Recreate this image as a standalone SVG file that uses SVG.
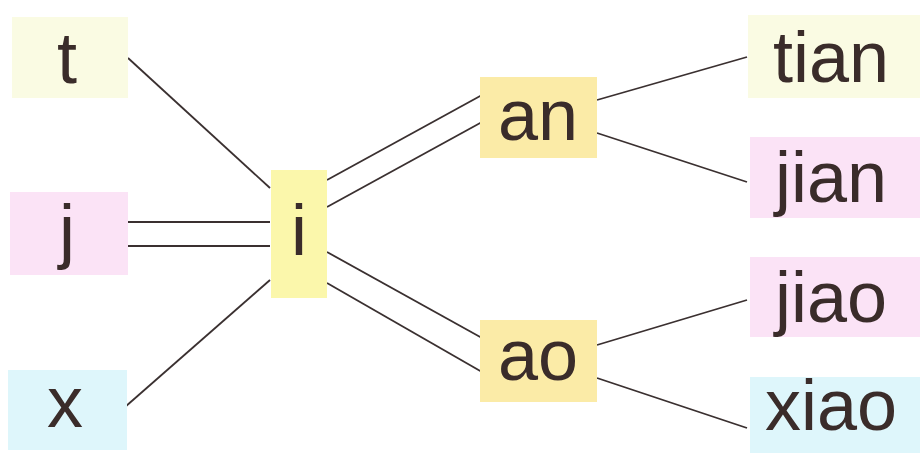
<svg xmlns="http://www.w3.org/2000/svg" width="920" height="453" viewBox="0 0 920 453">
<style>
text{font-family:"Liberation Sans","DejaVu Sans",sans-serif;font-size:72px;fill:#3a2c2a;text-anchor:middle}
.c line{stroke:#3a3030;stroke-width:1.8}
.y{fill:#fafbe3}.p{fill:#fbe3f6}.b{fill:#def6fb}.g{fill:#fbf7ab}.o{fill:#fbeba7}
</style>
<rect width="920" height="453" fill="#fff"/>
<g class="c" id="connectors">
<line x1="128" y1="58" x2="270" y2="188"/>
<line x1="128" y1="222" x2="270" y2="222"/>
<line x1="128" y1="246" x2="270" y2="246"/>
<line x1="125" y1="407" x2="270" y2="280"/>
<line x1="327" y1="180" x2="482" y2="95"/>
<line x1="327" y1="207" x2="482" y2="122"/>
<line x1="327" y1="252" x2="482" y2="338"/>
<line x1="327" y1="283" x2="482" y2="372"/>
<line x1="597" y1="100" x2="747" y2="57"/>
<line x1="597" y1="133" x2="747" y2="182"/>
<line x1="597" y1="345" x2="747" y2="300"/>
<line x1="597" y1="378" x2="747" y2="428"/>
</g>
<g id="t"><rect class="y" x="12" y="17" width="116" height="81"/><text x="67" y="83">t</text></g>
<g id="j"><rect class="p" x="10" y="192" width="118" height="83"/><text x="67" y="255">j</text></g>
<g id="x"><rect class="b" x="8" y="370" width="119" height="80"/><text x="65" y="427">x</text></g>
<g id="i"><rect class="g" x="271" y="170" width="56" height="128"/><text x="299" y="255">i</text></g>
<g id="an"><rect class="o" x="480" y="77" width="117" height="81"/><text x="538" y="140">an</text></g>
<g id="ao"><rect class="o" x="480" y="320" width="117" height="82"/><text x="538" y="380">ao</text></g>
<g id="tian"><rect class="y" x="748" y="15" width="172" height="83"/><text x="831" y="82">tian</text></g>
<g id="jian"><rect class="p" x="750" y="137" width="170" height="81"/><text x="831" y="202">jian</text></g>
<g id="jiao"><rect class="p" x="750" y="257" width="170" height="80"/><text x="831" y="322">jiao</text></g>
<g id="xiao"><rect class="b" x="750" y="377" width="170" height="76"/><text x="831" y="430">xiao</text></g>
</svg>
